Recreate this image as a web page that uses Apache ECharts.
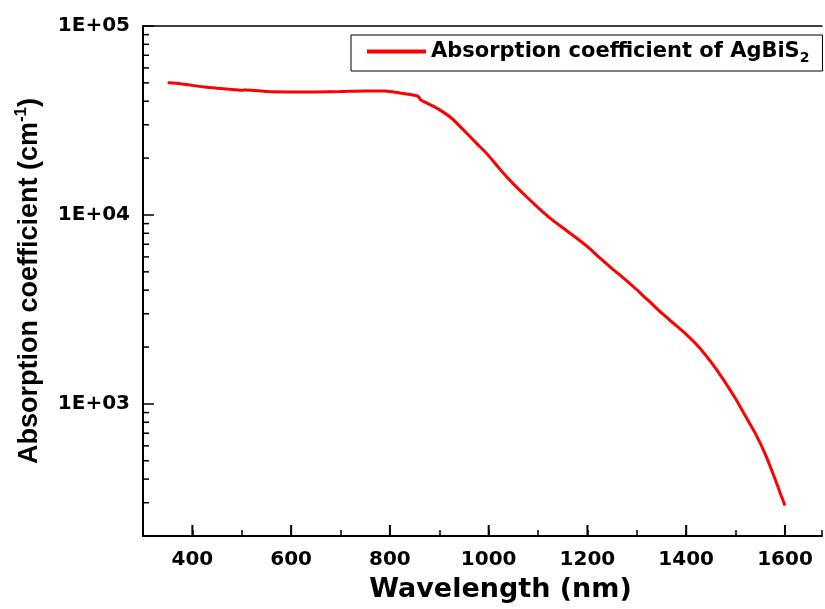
<!DOCTYPE html>
<html>
<head>
<meta charset="utf-8">
<script src="https://cdn.jsdelivr.net/npm/echarts@6/dist/echarts.min.js"></script>
<style>html,body{margin:0;padding:0;background:#fff;}#c{width:825px;height:609px;}</style>
</head>
<body>
<div id="c"></div>
<script>
// Data
const wavelength = [350, 375, 400, 425, 450, 475, 500, 510, 550, 600, 650, 700, 750, 790, 820, 850, 858, 862, 880, 900, 925, 950, 975, 1000, 1025, 1050, 1075, 1100, 1125, 1150, 1175, 1200, 1225, 1250, 1275, 1300, 1315, 1325, 1350, 1375, 1400, 1425, 1450, 1475, 1500, 1520, 1540, 1560, 1580, 1590, 1600];
const absorption = [50100, 49500, 48500, 47500, 46800, 46200, 45700, 45900, 45000, 44800, 44800, 45000, 45300, 45300, 44200, 43000, 42200, 40700, 38500, 36100, 32500, 28000, 24000, 20600, 17200, 14600, 12600, 10950, 9600, 8550, 7650, 6800, 5920, 5200, 4590, 4020, 3690, 3500, 3030, 2660, 2335, 2010, 1670, 1350, 1065, 863, 698, 543, 401, 339, 290];
const xMajorTicks = [400, 600, 800, 1000, 1200, 1400, 1600];
const yMinorTicks = [300, 400, 500, 600, 700, 800, 900, 2000, 3000, 4000, 5000, 6000, 7000, 8000, 9000, 20000, 30000, 40000, 50000, 60000, 70000, 80000, 90000];
const seriesName = 'Absorption coefficient of AgBiS2';

const chart = echarts.init(document.getElementById('c'));
const tickFont = 'DejaVu Sans';
chart.setOption({
  animation: false,
  backgroundColor: '#fff',
  grid: {left: 143, top: 26, right: 0, bottom: 73, containLabel: false},
  legend: {
    data: [seriesName],
    left: 351, top: 35,
    padding: [6, 13, 6, 16],
    borderColor: '#000', borderWidth: 1,
    icon: 'rect', itemWidth: 59, itemHeight: 4,
    itemStyle: {color: '#ff0000'},
    formatter: () => '{a|Absorption coefficient of AgBiS}{s|2}',
    textStyle: {
      rich: {
        a: {fontFamily: tickFont, fontWeight: 'bold', fontSize: 21, color: '#000', lineHeight: 27, verticalAlign: 'middle'},
        s: {fontFamily: tickFont, fontWeight: 'bold', fontSize: 14, color: '#000', lineHeight: 14, verticalAlign: 'bottom'}
      }
    }
  },
  xAxis: [{
    type: 'value', min: 300, max: 1675, interval: 100,
    position: 'bottom',
    splitLine: {show: false},
    axisLine: {lineStyle: {color: '#000', width: 2}},
    axisTick: {inside: true, length: 6, lineStyle: {color: '#000', width: 1.5}},
    axisLabel: {
      margin: 14, color: '#000', fontFamily: tickFont, fontWeight: 'bold', fontSize: 20,
      formatter: v => (xMajorTicks.indexOf(v) >= 0 ? String(v) : '')
    },
    name: 'Wavelength (nm)', nameLocation: 'middle', nameGap: 40,
    nameTextStyle: {color: '#000', fontFamily: tickFont, fontWeight: 'bold', fontSize: 27, padding: [0, 0, 0, 36]}
  }, {
    type: 'value', min: 300, max: 1675, interval: 100,
    position: 'top',
    splitLine: {show: false},
    axisLine: {show: true, lineStyle: {color: '#000', width: 1.5}},
    axisTick: {show: false}, axisLabel: {show: false}
  }],
  yAxis: {
    type: 'log', logBase: 10, min: 200, max: 100000,
    splitLine: {show: false},
    axisLine: {show: true, lineStyle: {color: '#000', width: 2}},
    axisTick: {show: true, inside: true, length: 11, lineStyle: {color: '#000', width: 1.5}},
    axisLabel: {
      margin: 13, color: '#000', fontFamily: tickFont, fontWeight: 'bold', fontSize: 20,
      formatter: v => {
        const e = Math.round(Math.log10(v));
        return Math.abs(v - Math.pow(10, e)) < 1e-6 * v ? '1E+' + String(e).padStart(2, '0') : '';
      }
    },
    name: 'Absorption coefficient (cm{sup|-1})', nameLocation: 'middle', nameGap: 92, nameRotate: 90,
    nameTextStyle: {
      color: '#000', fontFamily: 'Liberation Sans', fontWeight: 'bold', fontSize: 27, lineHeight: 34,
      rich: {
        sup: {fontFamily: 'Liberation Sans', fontWeight: 'bold', fontSize: 17, lineHeight: 34, verticalAlign: 'top', color: '#000'}
      }
    }
  },
  series: [{
    name: seriesName, type: 'line', showSymbol: false, symbol: 'none', smooth: 0.2,
    lineStyle: {color: '#ff0000', width: 3}, itemStyle: {color: '#ff0000'},
    data: wavelength.map((w, i) => [w, absorption[i]]),
    z: 2
  }, {
    type: 'custom', silent: true, clip: false, z: 3,
    data: yMinorTicks.map(v => [300, v]),
    renderItem: (params, api) => {
      const p = api.coord([api.value(0), api.value(1)]);
      return {type: 'line', shape: {x1: p[0], y1: p[1], x2: p[0] + 6, y2: p[1]}, style: {stroke: '#000', lineWidth: 1.5}};
    }
  }, {
    type: 'custom', silent: true, clip: false, z: 3,
    data: xMajorTicks.map(v => [v, 200]),
    renderItem: (params, api) => {
      const p = api.coord([api.value(0), api.value(1)]);
      return {type: 'line', shape: {x1: p[0], y1: p[1], x2: p[0], y2: p[1] - 11}, style: {stroke: '#000', lineWidth: 2}};
    }
  }]
});
</script>
</body>
</html>
